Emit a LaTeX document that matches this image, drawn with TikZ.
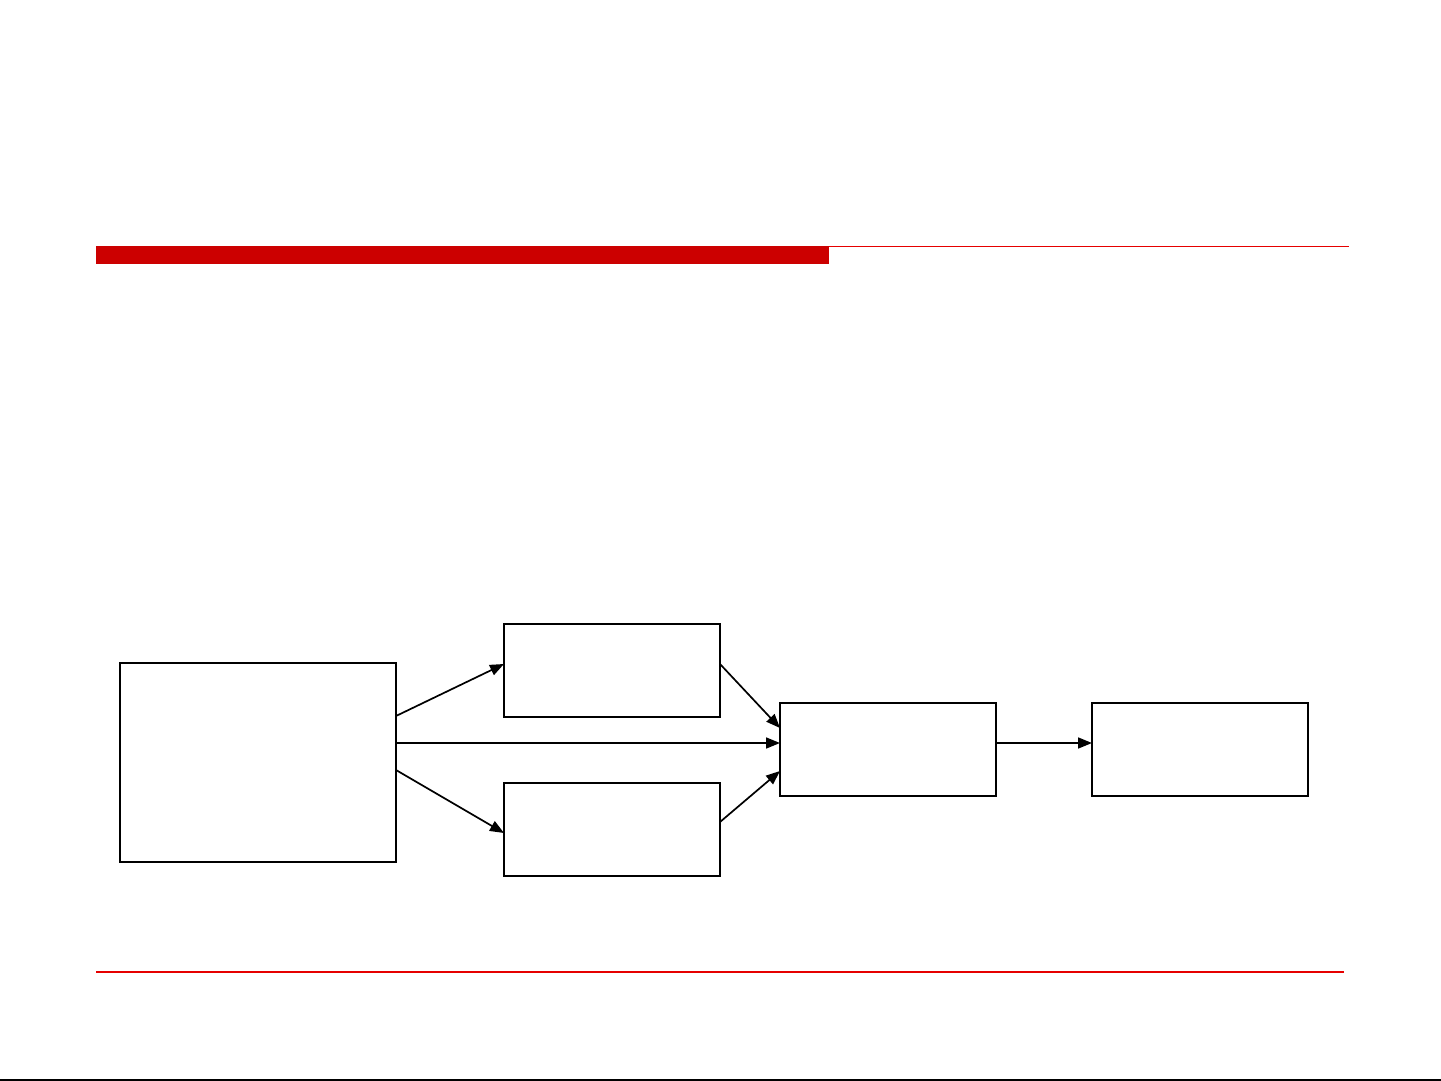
\documentclass[tikz,border=0pt]{standalone}
\usetikzlibrary{arrows.meta}
\definecolor{brandred}{RGB}{204,0,0}
\definecolor{linered}{RGB}{230,0,0}
\begin{document}
\begin{tikzpicture}[x=0.5pt,y=-0.5pt,
  boxnode/.style={draw=black,line width=1pt,fill=white,inner sep=0pt,outer sep=0pt},
  conn/.style={draw=black,line width=0.85pt,-{Triangle[length=7pt,width=5.5pt]}}]
\useasboundingbox (0,0) rectangle (1441,1081);
\fill[white] (0,0) rectangle (1441,1081);
% header bars
\fill[brandred] (96,246) rectangle (829,264);
\draw[linered,line width=0.6pt] (829,246.5) -- (1349,246.5);
% footer line
\draw[linered,line width=0.6pt] (96,972) -- (1344,972);
\draw[black,line width=0.6pt] (0,1080) -- (1441,1080);
% boxes
\node[boxnode,minimum width=138pt,minimum height=99.5pt,anchor=north west] (a) at (120,663) {};
\node[boxnode,minimum width=108pt,minimum height=46.5pt,anchor=north west] (b) at (504,624) {};
\node[boxnode,minimum width=108pt,minimum height=46.5pt,anchor=north west] (c) at (504,783) {};
\node[boxnode,minimum width=108pt,minimum height=46.5pt,anchor=north west] (d) at (780,703) {};
\node[boxnode,minimum width=108pt,minimum height=46.5pt,anchor=north west] (e) at (1092,703) {};
% connectors
\coordinate (a1) at (396,716);
\coordinate (a2) at (396,743);
\coordinate (a3) at (396,770);
\coordinate (b1) at (504,664);
\coordinate (c1) at (504,833);
\coordinate (bo) at (720,664);
\coordinate (co) at (720,822);
\coordinate (d1) at (780,728);
\coordinate (d2) at (780,743);
\coordinate (d3) at (780,771);
\coordinate (do) at (996,743);
\coordinate (e1) at (1092,743);
\draw[conn] (a1) -- (b1);
\draw[conn] (a2) -- (d2);
\draw[conn] (a3) -- (c1);
\draw[conn] (bo) -- (d1);
\draw[conn] (co) -- (d3);
\draw[conn] (do) -- (e1);
\end{tikzpicture}
\end{document}
